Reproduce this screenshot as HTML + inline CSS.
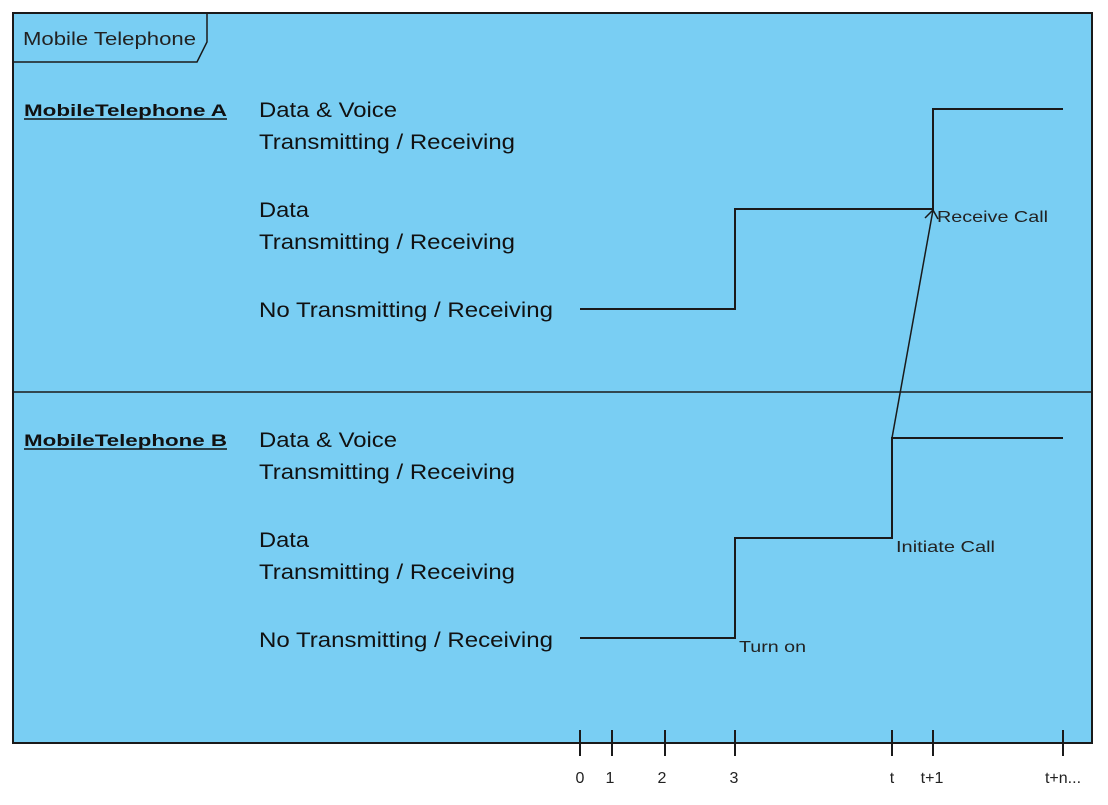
<!DOCTYPE html>
<html><head><style>body{margin:0;background:#fff}svg{display:block}</style></head>
<body>
<svg width="1108" height="805" viewBox="0 0 1108 805" xmlns="http://www.w3.org/2000/svg" font-family="Liberation Sans, Arial, sans-serif">
<rect x="13" y="13" width="1079" height="730" fill="#79CEF3" stroke="#1a1a1a" stroke-width="2"/>
<path d="M13 62 H197 L207 42 V13" fill="none" stroke="#1a1a1a" stroke-width="1.5"/>
<text x="23" y="45" font-size="18" fill="#222" textLength="173" lengthAdjust="spacingAndGlyphs">Mobile Telephone</text>
<line x1="13" y1="392" x2="1092" y2="392" stroke="#1a1a1a" stroke-width="1.5"/>
<g font-size="17" font-weight="bold" fill="#111">
<text x="24" y="116" textLength="203" lengthAdjust="spacingAndGlyphs">MobileTelephone A</text>
<text x="24" y="446" textLength="203" lengthAdjust="spacingAndGlyphs">MobileTelephone B</text>
</g>
<line x1="24" y1="119" x2="227" y2="119" stroke="#111" stroke-width="1.5"/>
<line x1="24" y1="449" x2="227" y2="449" stroke="#111" stroke-width="1.5"/>
<g font-size="21" fill="#111" lengthAdjust="spacingAndGlyphs">
<text x="259" y="117" textLength="138" lengthAdjust="spacingAndGlyphs">Data &amp; Voice</text>
<text x="259" y="149" textLength="256" lengthAdjust="spacingAndGlyphs">Transmitting / Receiving</text>
<text x="259" y="217" textLength="50" lengthAdjust="spacingAndGlyphs">Data</text>
<text x="259" y="249" textLength="256" lengthAdjust="spacingAndGlyphs">Transmitting / Receiving</text>
<text x="259" y="317" textLength="294" lengthAdjust="spacingAndGlyphs">No Transmitting / Receiving</text>
<text x="259" y="447" textLength="138" lengthAdjust="spacingAndGlyphs">Data &amp; Voice</text>
<text x="259" y="479" textLength="256" lengthAdjust="spacingAndGlyphs">Transmitting / Receiving</text>
<text x="259" y="547" textLength="50" lengthAdjust="spacingAndGlyphs">Data</text>
<text x="259" y="579" textLength="256" lengthAdjust="spacingAndGlyphs">Transmitting / Receiving</text>
<text x="259" y="647" textLength="294" lengthAdjust="spacingAndGlyphs">No Transmitting / Receiving</text>
</g>
<g fill="none" stroke="#1a1a1a" stroke-width="2">
<polyline points="580,309 735,309 735,209 933,209 933,109 1063,109"/>
<polyline points="580,638 735,638 735,538 892,538 892,438 1063,438"/>
<line x1="892" y1="438" x2="933" y2="210" stroke-width="1.5"/>
<polyline points="925,218 933,210 938,219" stroke-width="1.5"/>
</g>
<g font-size="16" fill="#222">
<text x="937" y="222" textLength="111" lengthAdjust="spacingAndGlyphs">Receive Call</text>
<text x="896" y="552" textLength="99" lengthAdjust="spacingAndGlyphs">Initiate Call</text>
<text x="739" y="652" textLength="67" lengthAdjust="spacingAndGlyphs">Turn on</text>
</g>
<g stroke="#1a1a1a" stroke-width="2">
<line x1="580" y1="730" x2="580" y2="756"/>
<line x1="612" y1="730" x2="612" y2="756"/>
<line x1="665" y1="730" x2="665" y2="756"/>
<line x1="735" y1="730" x2="735" y2="756"/>
<line x1="892" y1="730" x2="892" y2="756"/>
<line x1="933" y1="730" x2="933" y2="756"/>
<line x1="1063" y1="730" x2="1063" y2="756"/>
</g>
<g font-size="16" fill="#222" text-anchor="middle">
<text x="580" y="783">0</text>
<text x="610" y="783">1</text>
<text x="662" y="783">2</text>
<text x="734" y="783">3</text>
<text x="892" y="783">t</text>
<text x="932" y="783">t+1</text>
<text x="1063" y="783">t+n...</text>
</g>
</svg>
</body></html>
